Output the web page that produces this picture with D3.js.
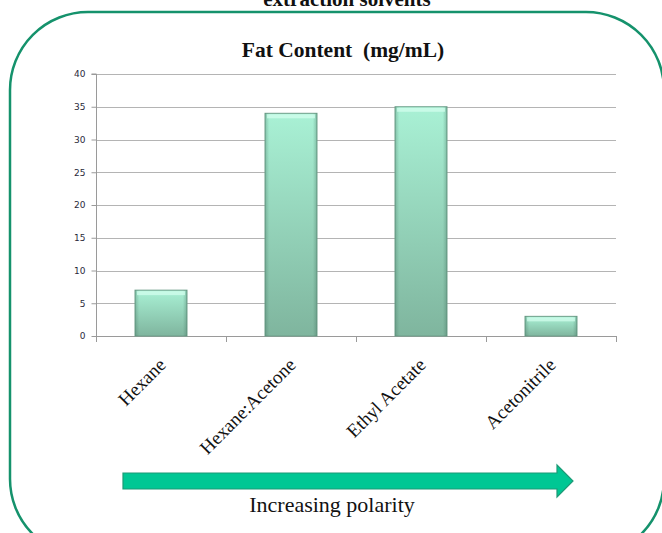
<!DOCTYPE html>
<html>
<head>
<meta charset="utf-8">
<script src="https://cdn.jsdelivr.net/npm/d3@7"></script>
<style>
  html, body { margin: 0; padding: 0; background: #fff; }
  svg { display: block; }
</style>
</head>
<body>
<svg id="chart" width="662" height="533"></svg>
<script>
// Fat content by extraction solvent
const categories = ["Hexane", "Hexane:Acetone", "Ethyl Acetate", "Acetonitrile"];
const fatContent = [7, 34, 35, 3];
const yTicks = [0, 5, 10, 15, 20, 25, 30, 35, 40];
const chartTitle = "Fat Content  (mg/mL)";
const headerText = "extraction solvents";
const arrowLabel = "Increasing polarity";

const svg = d3.select("#chart");
const serif = "'Liberation Serif', 'Times New Roman', serif";

const plot = { left: 96, right: 616, top: 74, bottom: 336 };

const x = d3.scaleBand().domain(categories).range([plot.left, plot.right]).padding(0);
const y = d3.scaleLinear().domain([0, 40]).range([plot.bottom, plot.top]);

const defs = svg.append("defs");
const grad = defs.append("linearGradient").attr("id", "barFill")
  .attr("x1", 0).attr("y1", 0).attr("x2", 0).attr("y2", 1);
grad.append("stop").attr("offset", "0%").attr("stop-color", "#a9f1d5");
grad.append("stop").attr("offset", "100%").attr("stop-color", "#7fb59e");

const edge = defs.append("linearGradient").attr("id", "edgeShade")
  .attr("x1", 0).attr("y1", 0).attr("x2", 1).attr("y2", 0);
edge.append("stop").attr("offset", "0%").attr("stop-color", "#3f6f5c").attr("stop-opacity", 0.35);
edge.append("stop").attr("offset", "8%").attr("stop-color", "#3f6f5c").attr("stop-opacity", 0);
edge.append("stop").attr("offset", "92%").attr("stop-color", "#3f6f5c").attr("stop-opacity", 0);
edge.append("stop").attr("offset", "100%").attr("stop-color", "#3f6f5c").attr("stop-opacity", 0.35);

// Rounded green frame
svg.append("rect")
  .attr("x", 10).attr("y", 12).attr("width", 654).attr("height", 545)
  .attr("rx", 78).attr("ry", 78)
  .attr("fill", "none").attr("stroke", "#15926c").attr("stroke-width", 2.5);

// Header line running off the top edge
svg.append("text")
  .attr("x", 347).attr("y", 6)
  .attr("text-anchor", "middle")
  .attr("font-family", serif)
  .attr("font-weight", "bold")
  .attr("font-size", 21)
  .attr("fill", "#111")
  .text(headerText);

// Chart title
svg.append("text")
  .attr("x", 343).attr("y", 57)
  .attr("text-anchor", "middle")
  .style("white-space", "pre")
  .attr("font-family", serif)
  .attr("font-weight", "bold")
  .attr("font-size", 21.5)
  .attr("fill", "#111")
  .text(chartTitle);

// Horizontal gridlines
svg.append("g").selectAll("line").data(yTicks.filter(d => d > 0)).join("line")
  .attr("x1", plot.left).attr("x2", plot.right)
  .attr("y1", d => Math.round(y(d)) + 0.5).attr("y2", d => Math.round(y(d)) + 0.5)
  .attr("stroke", "#b4b4b4").attr("stroke-width", 1.2);

// Y axis
const yAxis = d3.axisLeft(y).tickValues(yTicks).tickSize(5).tickPadding(6);
const gy = svg.append("g").attr("transform", `translate(${plot.left + 0.5},0)`).call(yAxis);
gy.select(".domain").attr("stroke", "#9a9a9a").attr("d", `M-5,${plot.top}H0V${plot.bottom + 6}`);
gy.selectAll(".tick line").attr("stroke", "#9a9a9a");
gy.selectAll(".tick text")
  .attr("font-family", "'DejaVu Sans', sans-serif")
  .attr("font-size", 9)
  .attr("fill", "#2a2a3a");

// X axis baseline and category boundary ticks
svg.append("line")
  .attr("x1", plot.left).attr("x2", plot.right)
  .attr("y1", plot.bottom + 0.5).attr("y2", plot.bottom + 0.5)
  .attr("stroke", "#9a9a9a");
svg.append("g").selectAll("line").data(categories).join("line")
  .attr("x1", d => Math.round(x(d) + x.bandwidth()) + 0.5)
  .attr("x2", d => Math.round(x(d) + x.bandwidth()) + 0.5)
  .attr("y1", plot.bottom).attr("y2", plot.bottom + 6)
  .attr("stroke", "#9a9a9a");

// Bars with bevel-style shading
const barW = x.bandwidth() * 0.4;
const bars = svg.append("g").selectAll("g").data(categories).join("g");
bars.append("rect")
  .attr("x", d => x(d) + (x.bandwidth() - barW) / 2)
  .attr("y", (d, i) => y(fatContent[i]))
  .attr("width", barW)
  .attr("height", (d, i) => y(0) - y(fatContent[i]))
  .attr("fill", "url(#barFill)")
  .attr("stroke", "#6e9f8a").attr("stroke-width", 1);
bars.append("rect")
  .attr("x", d => x(d) + (x.bandwidth() - barW) / 2)
  .attr("y", (d, i) => y(fatContent[i]))
  .attr("width", barW)
  .attr("height", (d, i) => y(0) - y(fatContent[i]))
  .attr("fill", "url(#edgeShade)");
bars.append("rect")
  .attr("x", d => x(d) + (x.bandwidth() - barW) / 2 + 2)
  .attr("y", (d, i) => y(fatContent[i]) + 1)
  .attr("width", barW - 4)
  .attr("height", 4)
  .attr("fill", "#d6fff0").attr("opacity", 0.7);

// Rotated category labels
svg.append("g").selectAll("text").data(categories).join("text")
  .attr("transform", d => `translate(${x(d) + x.bandwidth() / 2 + 6},${plot.bottom + 30}) rotate(-45)`)
  .attr("text-anchor", "end")
  .attr("font-family", serif)
  .attr("font-size", 19)
  .attr("fill", "#111")
  .text(d => d);

// Polarity arrow
const ax0 = 123, ax1 = 557, tip = 573, ay = 481, bodyH = 8, headH = 16;
svg.append("path")
  .attr("d", `M${ax0},${ay - bodyH}H${ax1}V${ay - headH}L${tip},${ay}L${ax1},${ay + headH}V${ay + bodyH}H${ax0}Z`)
  .attr("fill", "#00c794").attr("stroke", "#1d9a76").attr("stroke-width", 1.2);

svg.append("text")
  .attr("x", 332).attr("y", 512)
  .attr("text-anchor", "middle")
  .attr("font-family", serif)
  .attr("font-size", 22)
  .attr("fill", "#111")
  .text(arrowLabel);
</script>
</body>
</html>
